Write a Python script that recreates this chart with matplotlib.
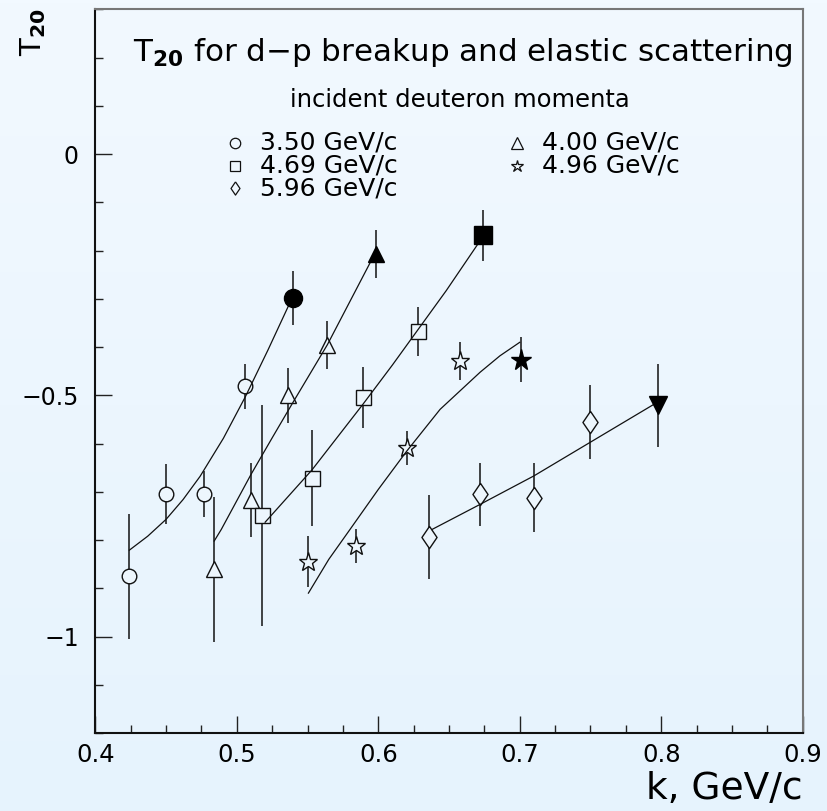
import numpy as np
import matplotlib
matplotlib.use("Agg")
import matplotlib.pyplot as plt
from matplotlib.colors import LinearSegmentedColormap
from matplotlib.ticker import MultipleLocator

# ---- data: k [GeV/c], T20, error ----
k_350 = [0.424, 0.450, 0.477, 0.506]
t_350 = [-0.875, -0.705, -0.704, -0.481]
e_350 = [0.13, 0.062, 0.048, 0.047]

k_400 = [0.484, 0.510, 0.536, 0.564]
t_400 = [-0.861, -0.717, -0.500, -0.395]
e_400 = [0.15, 0.077, 0.057, 0.050]

k_469 = [0.518, 0.553, 0.589, 0.628]
t_469 = [-0.749, -0.671, -0.504, -0.367]
e_469 = [0.23, 0.10, 0.063, 0.051]

k_496 = [0.550, 0.584, 0.620, 0.658]
t_496 = [-0.845, -0.813, -0.609, -0.429]
e_496 = [0.053, 0.035, 0.035, 0.039]

k_596 = [0.636, 0.672, 0.710, 0.750]
t_596 = [-0.794, -0.705, -0.712, -0.555]
e_596 = [0.087, 0.065, 0.071, 0.077]

# elastic scattering points (filled), one per momentum
k_el = [0.540, 0.5985, 0.674, 0.701, 0.798]
t_el = [-0.298, -0.207, -0.168, -0.426, -0.521]
e_el = [0.056, 0.050, 0.053, 0.047, 0.087]

# fitted curves, points
ck_350 = [0.424, 0.437, 0.450, 0.462, 0.474, 0.4905, 0.506, 0.522, 0.538]
ct_350 = [-0.821, -0.792, -0.757, -0.716, -0.668, -0.589, -0.503, -0.406, -0.305]
ck_400 = [0.484, 0.489, 0.510, 0.525, 0.540, 0.564, 0.580, 0.596]
ct_400 = [-0.802, -0.778, -0.664, -0.588, -0.513, -0.395, -0.305, -0.215]
ck_469 = [0.520, 0.553, 0.589, 0.610, 0.628, 0.648, 0.670]
ct_469 = [-0.763, -0.655, -0.519, -0.437, -0.364, -0.283, -0.188]
ck_496 = [0.5506, 0.565, 0.580, 0.600, 0.620, 0.6437, 0.672, 0.686, 0.700]
ct_496 = [-0.910, -0.840, -0.778, -0.695, -0.616, -0.529, -0.452, -0.418, -0.390]
ck_596 = [0.638, 0.672, 0.710, 0.750, 0.7946]
ct_596 = [-0.778, -0.726, -0.667, -0.597, -0.519]

legend_labels = ["3.50 GeV/c", "4.69 GeV/c", "5.96 GeV/c", "4.00 GeV/c", "4.96 GeV/c"]

BG = "#edf6fd"
diamond = [(0, 1), (0.68, 0), (0, -1), (-0.68, 0), (0, 1)]

fig = plt.figure(figsize=(8.28, 8.11), dpi=100)
bg = fig.add_axes([0, 0, 1, 1], zorder=-10)
bg.imshow(np.linspace(0, 1, 256)[:, None], aspect="auto", extent=[0, 1, 0, 1],
          cmap=LinearSegmentedColormap.from_list("bg", ["#f2f9ff", "#e6f3fd"]))
bg.axis("off")

ax = fig.add_axes([0.1152, 0.0962, 0.8542, 0.8921])
ax.set_facecolor("none")

open_sets = [
    (k_350, t_350, e_350, "o", 10.5),
    (k_400, t_400, e_400, "^", 11.5),
    (k_469, t_469, e_469, "s", 10.8),
    (k_496, t_496, e_496, "*", 14.0),
    (k_596, t_596, e_596, diamond, 16.0),
]
for k, t, e, m, ms in open_sets:
    ax.errorbar(k, t, yerr=e, fmt="none", ecolor="#111111", elinewidth=1.1, zorder=2)
    ax.plot(k, t, ls="none", marker=m, ms=ms, mfc=BG, mec="#111111", mew=1.0, zorder=3)

for ck, ct in [(ck_350, ct_350), (ck_400, ct_400), (ck_469, ct_469),
               (ck_496, ct_496), (ck_596, ct_596)]:
    ax.plot(ck, ct, color="#111111", lw=0.9, zorder=4)

filled = ["o", "^", "s", "*", "v"]
filled_ms = [13, 12, 13, 15.5, 12.5]
ax.errorbar(k_el, t_el, yerr=e_el, fmt="none", ecolor="#111111", elinewidth=1.1, zorder=2)
for k, t, m, ms in zip(k_el, t_el, filled, filled_ms):
    ax.plot(k, t, ls="none", marker=m, ms=ms, color="black", zorder=5)

ax.set_xlim(0.4, 0.9)
ax.set_ylim(-1.2, 0.3)
ax.xaxis.set_major_locator(MultipleLocator(0.1))
ax.xaxis.set_minor_locator(MultipleLocator(0.025))
ax.yaxis.set_major_locator(MultipleLocator(0.5))
ax.yaxis.set_minor_locator(MultipleLocator(0.1))
ax.xaxis.set_major_formatter(plt.FuncFormatter(lambda v, p: f"{v:.1f}"))
ax.yaxis.set_major_formatter(plt.FuncFormatter(
    lambda v, p: "0" if abs(v) < 1e-9 else ("\u22121" if abs(v + 1) < 1e-9 else f"{v:.1f}".replace("-", "\u2212"))))
ax.tick_params(which="both", direction="in", top=False, right=False, color="#222222", width=1.0)
ax.tick_params(which="major", length=12)
ax.tick_params(which="minor", length=6)
ax.tick_params(axis="x", labelsize=17.5, pad=7)
ax.tick_params(axis="y", labelsize=17, pad=12)
for s in ["left", "bottom"]:
    ax.spines[s].set_color("#111111")
    ax.spines[s].set_linewidth(1.5)
for s in ["top", "right"]:
    ax.spines[s].set_color("#777777")
    ax.spines[s].set_linewidth(1.5)

ax.text(0.053, 0.941, r"T$_{\mathbf{20}}$ for d$-$p breakup and elastic scattering",
        transform=ax.transAxes, fontsize=22.3, ha="left", va="center")
ax.text(0.515, 0.875, "incident deuteron momenta", transform=ax.transAxes,
        fontsize=17.5, ha="center", va="center")

leg_markers = ["o", "s", diamond, "^", "*"]
leg_ms = [7.5, 7.5, 9.5, 8, 9]
leg_x = [0.198, 0.198, 0.198, 0.596, 0.596]
leg_y = [0.816, 0.784, 0.753, 0.816, 0.784]
for lab, m, ms, x, y in zip(legend_labels, leg_markers, leg_ms, leg_x, leg_y):
    ax.plot([x], [y], transform=ax.transAxes, ls="none", marker=m, ms=ms,
            mfc="none", mec="#111111", mew=0.9)
    ax.text(x + 0.035, y, lab, transform=ax.transAxes, fontsize=18,
            ha="left", va="center")

ax.text(-0.088, 0.969, r"T$_{\mathbf{20}}$", transform=ax.transAxes, fontsize=21,
        rotation=90, ha="center", va="center")
ax.text(1.0, -0.077, "k, GeV/c", transform=ax.transAxes, fontsize=27,
        ha="right", va="center")

fig.savefig("out.png", dpi=100)
